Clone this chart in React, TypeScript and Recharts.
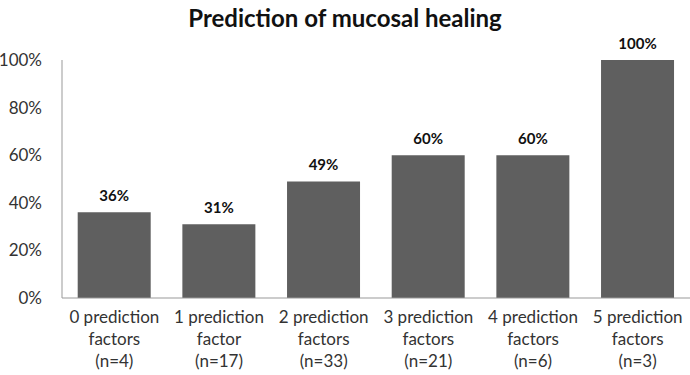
import React from 'react';
import { BarChart, Bar, XAxis, YAxis, LabelList } from 'recharts';

const categories = [
  '0 prediction\nfactors\n(n=4)',
  '1 prediction\nfactor\n(n=17)',
  '2 prediction\nfactors\n(n=33)',
  '3 prediction\nfactors\n(n=21)',
  '4 prediction\nfactors\n(n=6)',
  '5 prediction\nfactors\n(n=3)',
];
const healingRate = [36, 31, 49, 60, 60, 100];
const yTicks = [0, 20, 40, 60, 80, 100];

const data = categories.map((name, i) => ({ name, value: healingRate[i] }));

const FONT = 'Lato, "Open Sans", sans-serif';

const CategoryTick = (props: any) => {
  const { x, y, payload } = props;
  const lines = String(payload.value).split('\n');
  return (
    <g transform={`translate(${x},${y})`}>
      {lines.map((line: string, i: number) => (
        <text
          key={i}
          x={0}
          y={17 + i * 22}
          textAnchor="middle"
          fill="#333"
          fontSize={17}
          fontFamily={FONT}
        >
          {line}
        </text>
      ))}
    </g>
  );
};

export default function App() {
  return (
    <div style={{ position: 'absolute', left: 0, top: 0, width: 690, height: 375, background: '#fff' }}>
      <div
        style={{
          position: 'absolute',
          top: 3,
          width: 690,
          textAlign: 'center',
          fontFamily: FONT,
          fontWeight: 700,
          fontSize: 24,
          color: '#111',
        }}
      >
        Prediction of mucosal healing
      </div>
      <BarChart
        width={690}
        height={375}
        data={data}
        margin={{ top: 60, right: 0, bottom: 0, left: 0 }}
        barCategoryGap="15%"
      >
        <XAxis
          dataKey="name"
          height={77}
          tickLine={false}
          axisLine={{ stroke: '#999' }}
          tick={<CategoryTick />}
          interval={0}
        />
        <YAxis
          width={62}
          domain={[0, 100]}
          ticks={yTicks}
          tickFormatter={(v: number) => `${v}%`}
          tickLine={false}
          axisLine={{ stroke: '#999' }}
          tickMargin={14}
          tick={{ fill: '#333', fontSize: 17, fontFamily: FONT }}
        />
        <Bar dataKey="value" fill="#5f5f5f" isAnimationActive={false}>
          <LabelList
            dataKey="value"
            position="top"
            offset={11}
            formatter={(v: any) => `${v}%`}
            style={{ fill: '#111', fontWeight: 700, fontSize: 15, fontFamily: FONT }}
          />
        </Bar>
      </BarChart>
    </div>
  );
}
